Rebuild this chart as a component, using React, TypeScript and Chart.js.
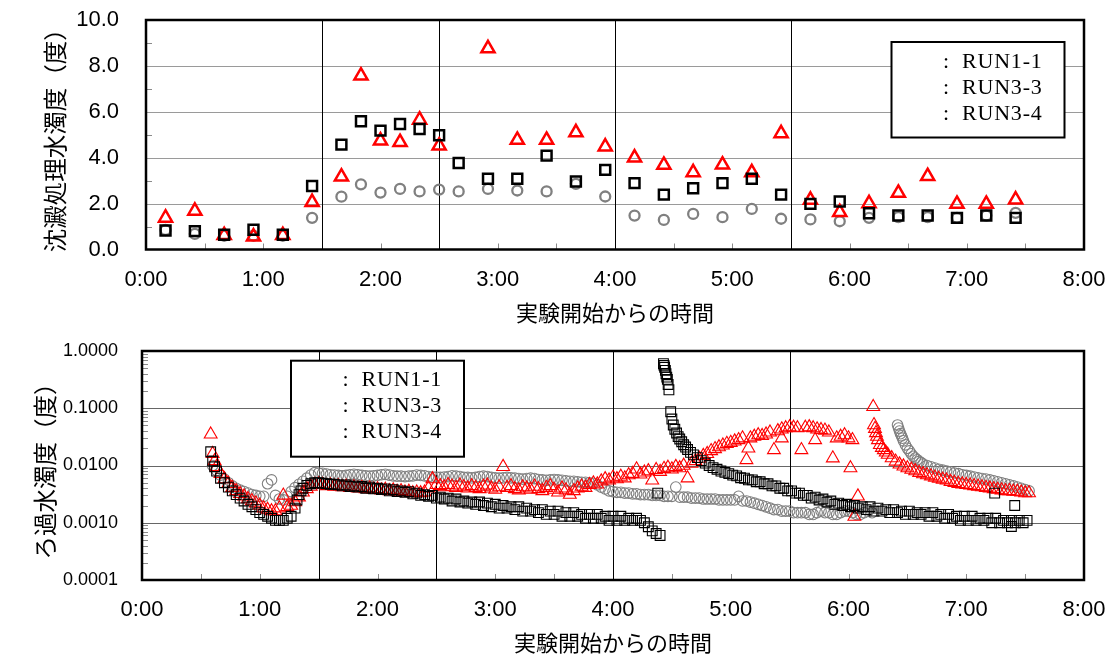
import React, { useEffect, useRef } from 'react';
import { Chart, registerables } from 'chart.js';

Chart.register(...registerables);
Chart.defaults.font.family = "'Liberation Sans', Arial, sans-serif";
Chart.defaults.color = '#000';

// ---------- shared axis data ----------
const xTickLabels = ['0:00', '1:00', '2:00', '3:00', '4:00', '5:00', '6:00', '7:00', '8:00'];
const stageLines = [90, 150, 240, 330]; // minutes
const legendLabels = ['RUN1-1', 'RUN3-3', 'RUN3-4'];
const xTitle = '実験開始からの時間';
const topYTitle = '沈澱処理水濁度（度）';
const bottomYTitle = 'ろ過水濁度（度）';
const topYTicks = [0, 2, 4, 6, 8, 10];
const bottomYTicks = [0.0001, 0.001, 0.01, 0.1, 1];

// ---------- top chart (minutes, turbidity) ----------
const topTimes = [10, 25, 40, 55, 70, 85, 100, 110, 120, 130, 140, 150, 160, 175, 190, 205,
  220, 235, 250, 265, 280, 295, 310, 325, 340, 355, 370, 385, 400, 415, 430, 445];
const topRun11 = [0.85, 0.68, 0.6, 0.6, 0.6, 1.38, 2.3, 2.84, 2.48, 2.64, 2.53, 2.61, 2.53, 2.64, 2.57, 2.53,
  2.86, 2.31, 1.48, 1.29, 1.55, 1.41, 1.77, 1.34, 1.31, 1.23, 1.38, 1.41, 1.41, 1.38, 1.48, 1.6];
const topRun33 = [0.83, 0.8, 0.64, 0.86, 0.64, 2.77, 4.57, 5.59, 5.18, 5.47, 5.25, 4.98, 3.77, 3.08, 3.08, 4.09,
  2.96, 3.47, 2.89, 2.39, 2.67, 2.89, 3.08, 2.39, 1.99, 2.09, 1.58, 1.48, 1.48, 1.38, 1.48, 1.38];
const topRun34 = [1.38, 1.68, 0.62, 0.56, 0.62, 2.06, 3.17, 7.57, 4.74, 4.67, 5.65, 4.52, null, 8.76, 4.77, 4.77,
  5.1, 4.48, 4.0, 3.68, 3.36, 3.69, 3.36, 5.06, 2.16, 1.62, 2.01, 2.46, 3.19, 1.98, 1.98, 2.17];

// ---------- bottom chart: sampled every 2 minutes, plus [minute, value] pairs ----------
const sampleStep = 2;

// RUN1-1 (gray circles)
const run11Seg1Start = 36;
const run11Seg1 = [
  .0100, .0082, .0068, .0058, .0050, .0044, .0040, .0037, .0035, .0033, // 36-54
  .0031, .0030, .0029, .0029, .0048, .0056, .0030, .0026, .0025, .0029, // 56-74
  .0035, .0041, .0047, .0053, .0060, .0068, .0075, .0074, .0073, .0071, // 76-94
  .0069, .0068, .0067, .0066, .0067, .0069, .0070, .0069, .0067, .0066, // 96-114
  .0065, .0066, .0067, .0069, .0070, .0068, .0066, .0065, .0065, .0064, // 116-134
  .0065, .0066, .0068, .0067, .0066, .0064, .0063, .0063, .0062, .0063, // 136-154
  .0064, .0066, .0065, .0064, .0062, .0062, .0061, .0062, .0064, .0065, // 156-174
  .0064, .0062, .0061, .0060, .0061, .0062, .0061, .0060, .0059, .0058, // 176-194
  .0059, .0060, .0059, .0057, .0056, .0055, .0056, .0057, .0056, .0055, // 196-214
  .0054, .0053, .0053, .0052, .0051, .0051, .0050, .0049, .0046, .0042, // 216-234
  .0039, .0036, .0035, .0034, .0034, .0033, .0033, .0032, .0032, .0031, // 236-254
  .0031, .0031, .0030, .0030, .0030, .0029, .0029, .0029, .0042, .0028, // 256-274
  .0028, .0028, .0027, .0027, .0027, .0026, .0026, .0026, .0026, .0025, // 276-294
  .0025, .0025, .0025, .0025, .0029, .0024, .0024, .0023, .0022, .0021, // 296-314
  .0020, .0019, .0018, .0017, .0017, .0016, .0016, .0016, .0015, .0015, // 316-334
  .0015, .0015, .0014, .0014, .0015, .0016, .0015, .0015, .0014, .0014, // 336-354
  .0015, .0016, .0016, .0015, .0014, .0014, .0015, .0016, .0015,        // 356-372
];
const run11Seg2Head: [number, number][] = [
  [385, .051], [385.5, .045], [386, .040], [386.5, .036], [387, .033], [387.5, .030], [388, .027], [389, .023],
  [390, .020], [391, .018], [392, .016], [393, .0145], [394, .0135], [395, .0126], [396, .0118], [397, .0112], [398, .0106],
];
const run11Seg2Start = 400;
const run11Seg2 = [
  .0100, .0095, .0090, .0086, .0083, .0080, .0077, .0074, .0072, .0069, // 400-418
  .0067, .0065, .0063, .0061, .0059, .0058, .0056, .0054, .0052, .0050, // 420-438
  .0048, .0046, .0044, .0042, .0040, .0038, .0036,                      // 440-452
];

// RUN3-3 (black squares)
const run33Head: [number, number][] = [[35, .0174], [36, .0120], [37, .0095], [38, .0080], [79, .0025], [81, .0036]];
const run33Seg1Start = 40;
const run33Seg1 = [
  .0060, .0050, .0042, .0036, .0031, .0027, .0024, .0021, .0019, .0017, // 40-58
  .0015, .0014, .0013, .0012, .0011, .0011, .0011, .0012, .0013, .0018, // 60-78
  .0031, .0040, .0045, .0048, .0050, .0050, .0049, .0048, .0047, .0047, // 80-98
  .0046, .0044, .0046, .0043, .0044, .0042, .0043, .0040, .0042, .0039, // 100-118
  .0040, .0038, .0039, .0036, .0038, .0035, .0036, .0034, .0035, .0032, // 120-138
  .0033, .0030, .0031, .0029, .0030, .0027, .0028, .0026, .0027, .0024, // 140-158
  .0026, .0023, .0024, .0022, .0023, .0021, .0023, .0020, .0022, .0019, // 160-178
  .0021, .0018, .0020, .0018, .0019, .0017, .0019, .0016, .0018, .0016, // 180-198
  .0017, .0015, .0017, .0014, .0016, .0014, .0016, .0013, .0015, .0013, // 200-218
  .0015, .0013, .0014, .0012, .0014, .0012, .0014, .0012, .0013, .0011, // 220-238
  .0013, .0011, .0013, .0011, .0012, .0011, .0012, .0011, .0010, .00085, // 240-258
  .00072, .00065, .00060,                                               // 260-264
];
const run33Seg2Head: [number, number][] = [
  [265.7, .60], [266.0, .56], [266.3, .52], [266.7, .46], [267, .40], [267.4, .35], [267.7, .32], [268.1, .26],
  [268.5, .21], [269.4, .087], [270, .065], [270.7, .051], [271.5, .043], [272.4, .037], [273.2, .032], [274, .029],
  [275, .026], [276, .023], [277, .021], [278, .019], [279.5, .017], [281, .0153],
];
const run33Seg2Start = 283;
const run33Seg2 = [
  .0137, .0122, .0110, .0100, .0092, .0086, .0080, .0076, .0072, .0068, // 283-301
  .0066, .0061, .0060, .0056, .0056, .0052, .0052, .0048, .0048, .0044, // 303-321
  .0044, .0040, .0040, .0036, .0036, .0033, .0033, .0030, .0030, .0027, // 323-341
  .0028, .0025, .0026, .0023, .0024, .0021, .0022, .0020, .0021, .0019, // 343-361
  .0020, .0018, .0019, .0017, .0019, .0016, .0018, .0016, .0017, .0015, // 363-381
  .0017, .0015, .0016, .0014, .0016, .0014, .0015, .0014, .0015, .0013, // 383-401
  .0015, .0013, .0014, .0012, .0014, .0012, .0013, .0011, .0013, .0011, // 403-421
  .0013, .0011, .0012, .0011, .0012, .0010, .0012, .0010, .0011, .0010, // 423-441
  .0011, .0010, .0011, .0010, .0011,                                    // 443-451
];
const run33Extra: [number, number][] = [[262.8, .0033], [434.5, .0033], [444.7, .0020], [443, .00086]];

// RUN3-4 (red triangles)
const run34Head: [number, number][] = [[35, .035], [36, .016], [37, .012], [38, .0095]];
const run34Seg1Start = 40;
const run34Seg1 = [
  .0072, .0058, .0048, .0041, .0036, .0032, .0029, .0026, .0024, .0022, // 40-58
  .0020, .0018, .0017, .0016, .0016, .0018, .0030, .0019, .0020, .0023, // 60-78
  .0028, .0034, .0039, .0043, .0046, .0047, .0046, .0044, .0045, .0043, // 80-98
  .0044, .0042, .0043, .0041, .0042, .0040, .0041, .0039, .0040, .0038, // 100-118
  .0039, .0037, .0038, .0036, .0037, .0035, .0036, .0034, .0035, .0033, // 120-138
  .0034, .0033, .0034, .0040, .0058, .0046, .0044, .0042, .0046, .0043, // 140-158
  .0041, .0045, .0042, .0040, .0044, .0041, .0039, .0043, .0045, .0040, // 160-178
  .0038, .0042, .0095, .0041, .0044, .0039, .0037, .0042, .0040, .0038, // 180-198
  .0043, .0039, .0036, .0041, .0044, .0038, .0034, .0040, .0037, .0031, // 200-218
  .0036, .0040, .0043, .0041, .0046, .0049, .0047, .0053, .0058, .0055, // 220-238
  .0062, .0058, .0064, .0060, .0068, .0072, .0086, .0070, .0076, .0080, // 240-258
  .0055, .0084, .0078, .0088, .0092, .0086, .0095, .0090, .0100, .0060, // 260-278
  .0108, .0120, .0132, .0148, .0160, .0180, .0195, .0210, .0225, .0240, // 280-298
  .0250, .0265, .0280, .0300, .0125, .0300, .0320, .0340, .0330, .0350, // 300-318
  .0380, .0187, .0400, .0430, .0450, .0470, .0460, .0450, .0187, .0460, // 320-338
  .0470, .0450, .0430, .0420, .0410, .0380, .0134, .0300, .0320, .0340, // 340-358
  .0300, .0280,                                                         // 360-362
];
const run34Extra: [number, number][] = [[361, .0090], [364.8, .0029], [363, .00128], [309, .0200], [326, .0300], [343, .0280]];
const run34Seg2Head: [number, number][] = [
  [372.6, .106], [373, .051], [373.5, .044], [374, .037], [374.5, .032], [375, .028], [376, .023], [377, .0205],
  [378, .0187], [379, .017], [380, .0155], [382, .0135], [384, .0118],
];
const run34Seg2Start = 386;
const run34Seg2 = [
  .0105, .0097, .0090, .0085, .0080, .0075, .0071, .0068, .0065, .0062, // 386-404
  .0059, .0057, .0055, .0052, .0050, .0048, .0047, .0046, .0045, .0044, // 406-424
  .0043, .0042, .0041, .0040, .0039, .0038, .0037, .0036, .0036, .0035, // 426-444
  .0035, .0034, .0033, .0033,                                           // 446-452
];

const CJK = "'Noto Sans CJK JP', sans-serif";

const sampled = (start: number, values: number[]) => values.map((v, i) => ({ x: start + i * sampleStep, y: v }));
const pairs = (p: [number, number][]) => p.map(([x, y]) => ({ x, y }));

type Deco = {
  gridValues: number[];
  gridColor: string;
  yMinor: number[];
  legendBox: { x: number; y: number; w: number; h: number };
};

function makeDeco(cfg: Deco) {
  return {
    id: 'deco',
    beforeDatasetsDraw(chart: any) {
      const { ctx, chartArea: a, scales } = chart;
      const x = scales.x, y = scales.y;
      ctx.save();
      ctx.lineWidth = 1;
      ctx.strokeStyle = cfg.gridColor;
      for (const v of cfg.gridValues) {
        const py = Math.round(y.getPixelForValue(v)) + 0.5;
        ctx.beginPath(); ctx.moveTo(a.left, py); ctx.lineTo(a.right, py); ctx.stroke();
      }
      ctx.strokeStyle = '#8a8a8a';
      for (const v of cfg.yMinor) {
        const py = Math.round(y.getPixelForValue(v)) + 0.5;
        ctx.beginPath(); ctx.moveTo(a.left, py); ctx.lineTo(a.left + 6, py); ctx.stroke();
      }
      for (let m = 30; m < 480; m += 30) {
        const px = Math.round(x.getPixelForValue(m)) + 0.5;
        ctx.beginPath(); ctx.moveTo(px, a.bottom); ctx.lineTo(px, a.bottom - 6); ctx.stroke();
      }
      ctx.strokeStyle = '#000';
      for (const m of stageLines) {
        const px = Math.round(x.getPixelForValue(m)) + 0.5;
        ctx.beginPath(); ctx.moveTo(px, a.top); ctx.lineTo(px, a.bottom); ctx.stroke();
      }
      ctx.restore();
    },
    afterDatasetsDraw(chart: any) {
      const { ctx, chartArea: a } = chart;
      ctx.save();
      ctx.lineWidth = 2.5;
      ctx.strokeStyle = '#000';
      ctx.strokeRect(a.left, a.top, a.right - a.left, a.bottom - a.top);
      const b = cfg.legendBox;
      ctx.fillStyle = '#fff';
      ctx.fillRect(b.x, b.y, b.w, b.h);
      ctx.lineWidth = 2;
      ctx.strokeRect(b.x, b.y, b.w, b.h);
      ctx.fillStyle = '#000';
      ctx.font = "22px 'Liberation Serif', serif";
      try { (ctx as any).letterSpacing = '0.8px'; } catch (e) { /* ignore */ }
      legendLabels.forEach((lab, i) => {
        const by = b.y + 25.5 + i * 26;
        ctx.textAlign = 'center';
        ctx.fillText(':', b.x + 55, by);
        ctx.textAlign = 'left';
        ctx.fillText(lab, b.x + 70.5, by);
      });
      ctx.restore();
    },
  };
}

function xScale(height: number, titlePadBottom: number) {
  return {
    type: 'linear',
    min: 0,
    max: 480,
    afterBuildTicks: (s: any) => { s.ticks = xTickLabels.map((_, i) => ({ value: i * 60 })); },
    afterFit: (s: any) => { s.height = height; s.paddingLeft = 0; s.paddingRight = 0; },
    ticks: {
      callback: (_v: any, i: number) => xTickLabels[i],
      font: { size: 22 },
      padding: 17,
      maxRotation: 0,
      autoSkip: false,
      color: '#000',
    },
    grid: { display: false, drawTicks: false },
    border: { display: false },
    title: { display: true, text: xTitle, color: '#000', font: { family: CJK, size: 22 }, padding: { top: 0, bottom: titlePadBottom } },
  };
}

const pointSets = (big: boolean) => ({
  gray: { pointStyle: 'circle', pointRadius: big ? 5.0 : 5.3, pointBorderWidth: big ? 2.3 : 1.1, pointBorderColor: '#808080' },
  black: { pointStyle: 'rect', pointRadius: big ? 7.0 : 6.9, pointBorderWidth: big ? 2.5 : 1.1, pointBorderColor: '#000' },
  red: { pointStyle: 'triangle', pointRadius: big ? 7.6 : 7.4, pointBorderWidth: big ? 2.5 : 1.1, pointBorderColor: '#ff0000' },
});

function ds(label: string, data: any[], style: any, order: number) {
  return {
    label,
    data,
    showLine: false,
    pointBackgroundColor: 'rgba(0,0,0,0)',
    backgroundColor: 'rgba(0,0,0,0)',
    borderColor: style.pointBorderColor,
    order,
    ...style,
  };
}

const baseOptions = {
  responsive: false,
  maintainAspectRatio: false,
  devicePixelRatio: 1,
  animation: false,
  events: [],
  plugins: { legend: { display: false }, tooltip: { enabled: false } },
};

export default function App() {
  const topRef = useRef<HTMLCanvasElement | null>(null);
  const botRef = useRef<HTMLCanvasElement | null>(null);

  useEffect(() => {
    const P1 = pointSets(true);
    const topChart = new Chart(topRef.current as HTMLCanvasElement, {
      type: 'scatter',
      data: {
        datasets: [
          ds(legendLabels[1], topTimes.map((t, i) => ({ x: t, y: topRun33[i] })), P1.black, 0),
          ds(legendLabels[2], topTimes.map((t, i) => ({ x: t, y: topRun34[i] })), P1.red, 1),
          ds(legendLabels[0], topTimes.map((t, i) => ({ x: t, y: topRun11[i] })), P1.gray, 2),
        ],
      },
      options: {
        ...baseOptions,
        layout: { padding: { left: 0, top: 20, right: 28, bottom: 0 } },
        scales: {
          x: xScale(78.5, 1.8),
          y: {
            type: 'linear',
            min: 0,
            max: 10,
            afterBuildTicks: (s: any) => { s.ticks = topYTicks.map((v) => ({ value: v })); },
            afterFit: (s: any) => { s.width = 146; s.paddingTop = 0; s.paddingBottom = 0; },
            ticks: { callback: (v: any) => Number(v).toFixed(1), font: { size: 22 }, padding: 27, color: '#000' },
            grid: { display: false, drawTicks: false },
            border: { display: false },
            title: { display: true, text: topYTitle, color: '#000', font: { family: CJK, size: 23.5 }, padding: { top: 41, bottom: 0 } },
          },
        },
      } as any,
      plugins: [makeDeco({
        gridValues: [2, 4, 6, 8],
        gridColor: '#9a9a9a',
        yMinor: [1, 3, 5, 7, 9],
        legendBox: { x: 891.5, y: 42, w: 173, h: 95.5 },
      })],
    } as any);

    const P2 = pointSets(false);
    const minors: number[] = [];
    [0.0001, 0.001, 0.01, 0.1].forEach((d) => { for (let k = 2; k <= 9; k++) minors.push(d * k); });
    const run11Data = [...sampled(run11Seg1Start, run11Seg1), ...pairs(run11Seg2Head), ...sampled(run11Seg2Start, run11Seg2)];
    const run33Data = [...pairs(run33Head), ...sampled(run33Seg1Start, run33Seg1), ...pairs(run33Seg2Head),
      ...sampled(run33Seg2Start, run33Seg2), ...pairs(run33Extra)];
    const run34Data = [...pairs(run34Head), ...sampled(run34Seg1Start, run34Seg1), ...pairs(run34Extra),
      ...pairs(run34Seg2Head), ...sampled(run34Seg2Start, run34Seg2)];
    const botChart = new Chart(botRef.current as HTMLCanvasElement, {
      type: 'scatter',
      data: {
        datasets: [
          ds(legendLabels[1], run33Data, P2.black, 0),
          ds(legendLabels[2], run34Data, P2.red, 1),
          ds(legendLabels[0], run11Data, P2.gray, 2),
        ],
      },
      options: {
        ...baseOptions,
        layout: { padding: { left: 0, top: 23, right: 28, bottom: 0 } },
        scales: {
          x: xScale(76, 0),
          y: {
            type: 'logarithmic',
            min: 0.0001,
            max: 1,
            afterBuildTicks: (s: any) => { s.ticks = bottomYTicks.map((v) => ({ value: v })); },
            afterFit: (s: any) => { s.width = 142; s.paddingTop = 0; s.paddingBottom = 0; },
            ticks: { callback: (v: any) => Number(v).toFixed(4), font: { size: 18 }, padding: 24, color: '#000' },
            grid: { display: false, drawTicks: false },
            border: { display: false },
            title: { display: true, text: bottomYTitle, color: '#000', font: { family: CJK, size: 23.5 }, padding: { top: 31, bottom: 0 } },
          },
        },
      } as any,
      plugins: [makeDeco({
        gridValues: [0.001, 0.01, 0.1],
        gridColor: '#666666',
        yMinor: minors,
        legendBox: { x: 291, y: 32.7, w: 173, h: 96 },
      })],
    } as any);

    return () => { topChart.destroy(); botChart.destroy(); };
  }, []);

  return (
    <div style={{ position: 'absolute', left: 0, top: 0, width: 1112, height: 656, background: '#fff' }}>
      <canvas ref={topRef} width={1112} height={328} style={{ position: 'absolute', left: 0, top: 0, width: 1112, height: 328 }} />
      <canvas ref={botRef} width={1112} height={328} style={{ position: 'absolute', left: 0, top: 328, width: 1112, height: 328 }} />
    </div>
  );
}
